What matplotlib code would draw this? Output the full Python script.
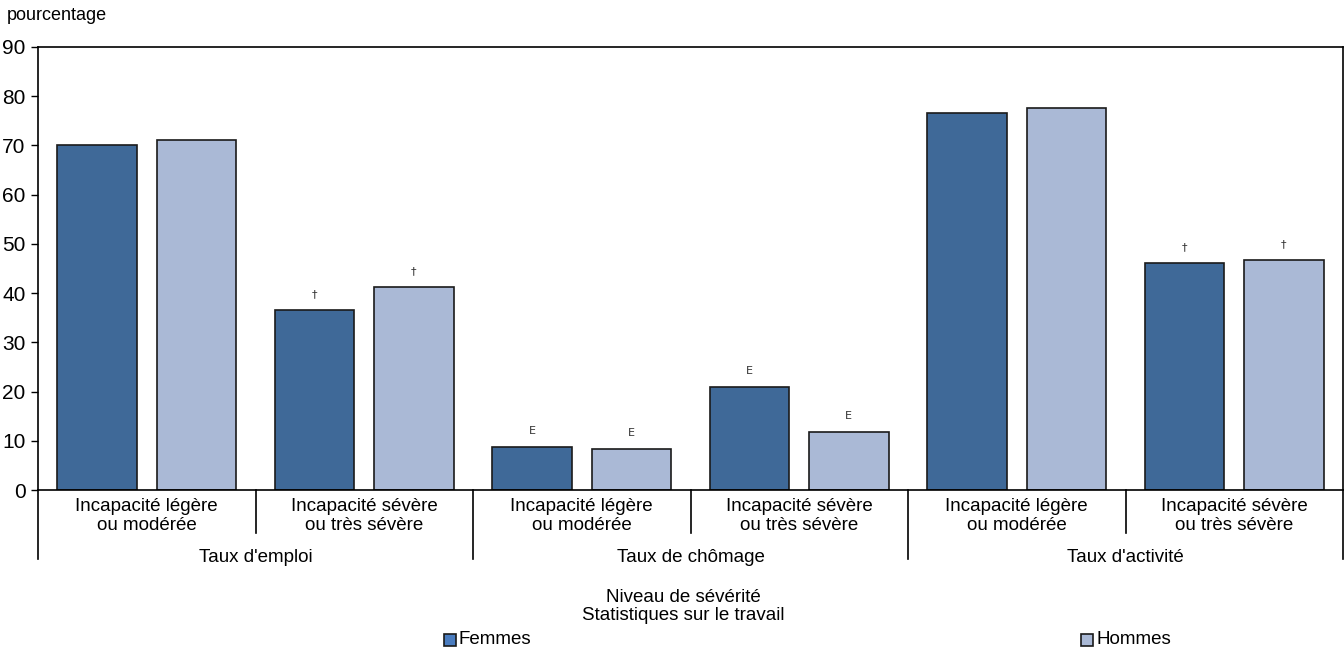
import matplotlib
matplotlib.use('Agg')
import matplotlib.pyplot as plt
from matplotlib.patches import Rectangle
import matplotlib.transforms as mtransforms

plt.rcParams['font.family'] = ['Liberation Sans Narrow', 'Liberation Sans', 'DejaVu Sans']

# data
sub_labels = ["Incapacité légère\nou modérée", "Incapacité sévère\nou très sévère"] * 3
groups = ["Taux d'emploi", "Taux de chômage", "Taux d'activité"]
femmes = [70.0, 36.5, 8.7, 21.0, 76.6, 46.2]
hommes = [71.2, 41.3, 8.3, 11.8, 77.6, 46.8]
notes_f = ["", "†", "E", "E", "", "†"]
notes_h = ["", "†", "E", "E", "", "†"]

c_f = '#3f6998'
c_h = '#aab9d6'
edge = '#1a1a1a'

W, H = 1344, 652
fig = plt.figure(figsize=(W / 100, H / 100), dpi=100)
ax = fig.add_axes([38 / W, (H - 490) / H, (1343 - 38) / W, (490 - 47) / H])

x = list(range(len(femmes)))
off = 0.228
bw = 0.366
ax.bar([i - off for i in x], femmes, bw, color=c_f, edgecolor=edge, linewidth=1.2)
ax.bar([i + off for i in x], hommes, bw, color=c_h, edgecolor=edge, linewidth=1.2)

for i in x:
    if notes_f[i]:
        ax.text(i - off, femmes[i] + 3.2, notes_f[i], ha='center', va='center', fontsize=8, color='#333333',
                family=['DejaVu Sans'])
    if notes_h[i]:
        ax.text(i + off, hommes[i] + 3.2, notes_h[i], ha='center', va='center', fontsize=8, color='#333333',
                family=['DejaVu Sans'])

ax.set_xlim(-0.5, 5.5)
ax.set_ylim(0, 90)
ax.set_yticks(range(0, 91, 10))
ax.tick_params(axis='y', labelsize=15, length=5, width=1, direction='out', pad=4)
ax.set_xticks([])
for s in ['left', 'bottom', 'top', 'right']:
    ax.spines[s].set_color('black')
    ax.spines[s].set_linewidth(1.2)

trans = mtransforms.blended_transform_factory(ax.transData, ax.transAxes)
px = 1 / 443
# sub separators and group separators
for i in range(len(x) + 1):
    xb = i - 0.5
    if i % 2 == 0:
        ax.plot([xb, xb], [0, -69 * px], transform=trans, color='black', lw=1.2, clip_on=False)
    else:
        ax.plot([xb, xb], [0, -43 * px], transform=trans, color='black', lw=1.2, clip_on=False)

for i, lab in enumerate(sub_labels):
    ax.text(i, -26 * px, lab, transform=trans, ha='center', va='center', fontsize=13.5, linespacing=1.15)
for g, lab in enumerate(groups):
    ax.text(2 * g + 0.5, -67 * px, lab, transform=trans, ha='center', va='center', fontsize=13.5)

fig.text(7 / W, 1 - 15 / H, 'pourcentage', ha='left', va='center', fontsize=13)
fig.text(683 / W, 1 - 597 / H, 'Niveau de sévérité', ha='center', va='center', fontsize=13.5)
fig.text(683 / W, 1 - 615 / H, 'Statistiques sur le travail', ha='center', va='center', fontsize=13.5)

# legend
for (lx, lab, col) in [(444, 'Femmes', '#4a7cbf'), (1081, 'Hommes', c_h)]:
    fig.patches.append(Rectangle((lx / W, 1 - 646 / H), 12 / W, 12 / H, transform=fig.transFigure,
                                 facecolor=col, edgecolor=edge, linewidth=1.2))
    fig.text((lx + 15) / W, 1 - 640 / H, lab, ha='left', va='center', fontsize=13.5)

fig.savefig('out.png', dpi=100)
